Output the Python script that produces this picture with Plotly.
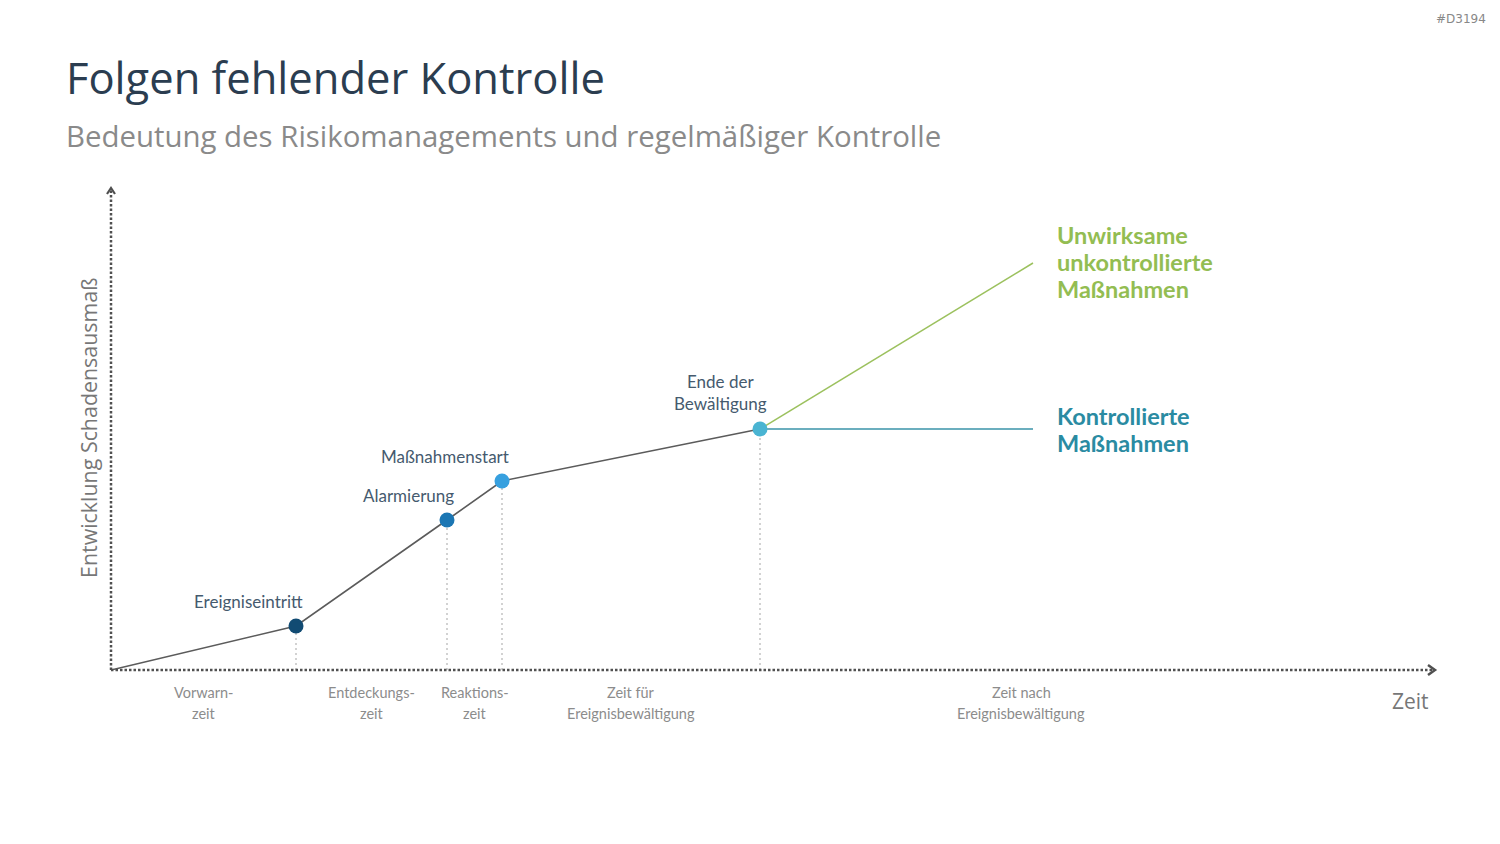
import plotly.graph_objects as go

# ---------------- data ----------------
event_names = ["Ereigniseintritt", "Alarmierung", "Maßnahmenstart", "Ende der<br>Bewältigung"]
event_x = [185, 336, 391, 649]
event_y = [44, 150, 189, 241]
event_colors = ["#114b73", "#1b76b3", "#37a0df", "#4ab4d2"]

start_x, start_y = 0, 0
end_x = 922
uncontrolled_end_y = 407
controlled_end_y = 241

uncontrolled_label = ["Unwirksame", "unkontrollierte", "Maßnahmen"]
controlled_label = ["Kontrollierte", "Maßnahmen"]

phase_labels = [["Vorwarn-", "zeit"], ["Entdeckungs-", "zeit"], ["Reaktions-", "zeit"],
                ["Zeit für", "Ereignisbewältigung"], ["Zeit nach", "Ereignisbewältigung"]]
phase_bounds = [0, 185, 336, 391, 649, 1171]

X_MAX, Y_MAX = 1324, 482

# ---------------- layout helpers ----------------
L, T, W, H = 111, 188, 1500, 844
B = H - 670
R = W - (L + X_MAX)


def px(x):
    return (x - L) / X_MAX


def py(y):
    return (670 - y) / Y_MAX


FONT = "Open Sans"
LFONT = "Lato"
AXIS_COLOR = "#505050"

fig = go.Figure()

# drop lines (light dotted verticals)
for x, y in zip(event_x, event_y):
    fig.add_shape(type="line", x0=x, x1=x, y0=0, y1=y, xref="x", yref="y",
                  line=dict(color="#d2d2d2", width=2, dash="2px,3px"), layer="below")

# axes (dotted) - paper refs so they are not clipped
fig.add_shape(type="line", x0=0, x1=0.998, y0=0, y1=0, xref="paper", yref="paper",
              line=dict(color=AXIS_COLOR, width=2.5, dash="2.5px,2px"))
fig.add_shape(type="line", x0=0, x1=0, y0=0, y1=0.995, xref="paper", yref="paper",
              line=dict(color=AXIS_COLOR, width=2.5, dash="2.5px,2px"))

# chevron arrowheads at the axis ends
fig.add_shape(type="path", xref="paper", yref="paper", xsizemode="pixel", ysizemode="pixel",
              xanchor=1, yanchor=0, path="M-7,5 L0,0 L-7,-5",
              line=dict(color=AXIS_COLOR, width=2.5))
fig.add_shape(type="path", xref="paper", yref="paper", xsizemode="pixel", ysizemode="pixel",
              xanchor=0, yanchor=1, path="M-4,-6 L0,0 L4,-6",
              line=dict(color=AXIS_COLOR, width=2.2))

# branch lines
fig.add_trace(go.Scatter(x=[event_x[-1], end_x], y=[event_y[-1], uncontrolled_end_y],
                         mode="lines", line=dict(color="#9cc15e", width=1.5),
                         hoverinfo="skip", showlegend=False))
fig.add_trace(go.Scatter(x=[event_x[-1], end_x], y=[event_y[-1], controlled_end_y],
                         mode="lines", line=dict(color="#3a93a8", width=1.5),
                         hoverinfo="skip", showlegend=False))

# main path
fig.add_trace(go.Scatter(x=[start_x] + event_x, y=[start_y] + event_y, mode="lines",
                         line=dict(color="#5b5b5b", width=1.6),
                         hoverinfo="skip", showlegend=False))
fig.add_trace(go.Scatter(x=event_x, y=event_y, mode="markers",
                         marker=dict(size=15, color=event_colors, line=dict(width=0)),
                         hoverinfo="skip", showlegend=False))

annotations = []

# event labels
yshifts = [25, 25, 25, 37]
for name, x, y, ys in zip(event_names, event_x, event_y, yshifts):
    annotations.append(dict(x=x, y=y, xref="x", yref="y", text=name, showarrow=False,
                            xanchor="right", yanchor="middle", xshift=9, yshift=ys,
                            align="center",
                            font=dict(family=LFONT, size=17, color="#455a6e")))

# phase labels under the time axis (centered between phase bounds)
for lines, a, b in zip(phase_labels, phase_bounds[:-1], phase_bounds[1:]):
    for i, line in enumerate(lines):
        annotations.append(dict(x=(a + b) / 2, y=py(692 + 21 * i), xref="x", yref="paper",
                                text=line, showarrow=False, xanchor="center", yanchor="middle",
                                font=dict(family=LFONT, size=14.5, color="#8c8c8c")))

# right-side labels (one line each, 27 px spacing)
for i, line in enumerate(uncontrolled_label):
    annotations.append(dict(x=px(1055), y=py(235 + 27 * i), xref="paper", yref="paper",
                            text=line, showarrow=False, xanchor="left", yanchor="middle",
                            font=dict(family=LFONT, size=23.5, color="#93bd52", weight="bold")))
for i, line in enumerate(controlled_label):
    annotations.append(dict(x=px(1055), y=py(416 + 27 * i), xref="paper", yref="paper",
                            text=line, showarrow=False, xanchor="left", yanchor="middle",
                            font=dict(family=LFONT, size=23.5, color="#2a8ba2", weight="bold")))

# axis titles
annotations.append(dict(x=px(88), y=py(428), xref="paper", yref="paper",
                        text="Entwicklung Schadensausmaß", textangle=-90, showarrow=False,
                        xanchor="center", yanchor="middle",
                        font=dict(family=FONT, size=21.4, color="#777777")))
annotations.append(dict(x=px(1410), y=py(701), xref="paper", yref="paper",
                        text="Zeit", showarrow=False, xanchor="center", yanchor="middle",
                        font=dict(family=FONT, size=21, color="#777777")))

# titles
annotations.append(dict(x=px(64), y=py(78), xref="paper", yref="paper",
                        text="Folgen fehlender Kontrolle", showarrow=False,
                        xanchor="left", yanchor="middle",
                        font=dict(family=FONT, size=43.5, color="#2b3d50")))
annotations.append(dict(x=px(64), y=py(136), xref="paper", yref="paper",
                        text="Bedeutung des Risikomanagements und regelmäßiger Kontrolle",
                        showarrow=False, xanchor="left", yanchor="middle",
                        font=dict(family=FONT, size=29.4, color="#8a8a8a")))
annotations.append(dict(x=px(1488), y=py(19), xref="paper", yref="paper",
                        text="#D3194", showarrow=False, xanchor="right", yanchor="middle",
                        font=dict(family="DejaVu Sans", size=12, color="#888888")))

fig.update_layout(
    width=W, height=H,
    margin=dict(l=L, r=R, t=T, b=B),
    paper_bgcolor="white", plot_bgcolor="white",
    showlegend=False,
    annotations=annotations,
    xaxis=dict(range=[0, X_MAX], showgrid=False, zeroline=False, showline=False,
               showticklabels=False, ticks="", fixedrange=True),
    yaxis=dict(range=[0, Y_MAX], showgrid=False, zeroline=False, showline=False,
               showticklabels=False, ticks="", fixedrange=True),
)

fig.write_html("out.html", config={"displayModeBar": False})
